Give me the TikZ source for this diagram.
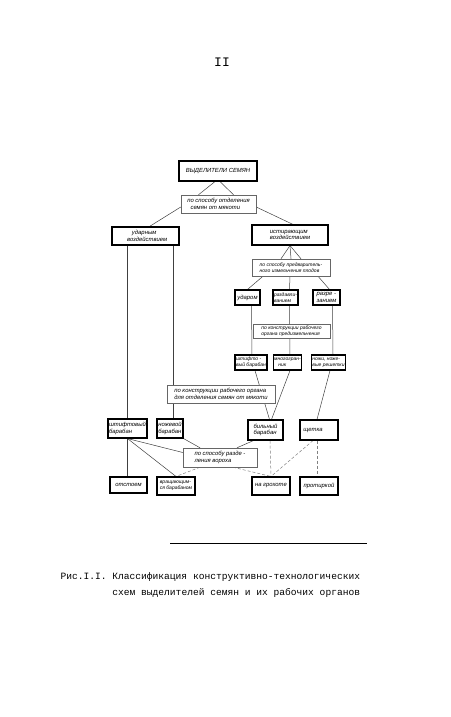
\documentclass[tikz,border=0pt]{standalone}
\usepackage{fontspec}
\setmainfont{Liberation Mono}
\newfontfamily\handfont{Liberation Sans}
\usetikzlibrary{backgrounds}
\begin{document}
\begin{tikzpicture}[x=1pt, y=-1pt,
  box/.style={draw, line width=1.1pt, fill=white, inner sep=1pt, align=left,
    font=\handfont\itshape\fontsize{5.9}{6.3}\selectfont},
  tight/.style={font=\handfont\itshape\fontsize{5}{5.8}\selectfont},
  crit/.style={box, draw=black!60, line width=0.45pt},
  link/.style={black!75, line width=0.5pt},
  weak/.style={black!50, line width=0.5pt, dash pattern=on 3pt off 2pt}]
  \useasboundingbox (0,0) rectangle (450,717);
  \node[font=\fontsize{13}{13}\selectfont] (pagenum) at (222,62) {II};

  \node[box, minimum width=78, minimum height=20] (root) at (218,171) {ВЫДЕЛИТЕЛИ СЕМЯН};
  \node[crit, minimum width=75, minimum height=18] (q1) at (218.5,204) {по способу отделения\\ \ \ семян от мякоти};
  \node[box, minimum width=67, minimum height=18] (udar) at (145.5,236) {\ \ \ \ \ ударным\\ \ \ воздействием};
  \node[box, minimum width=76, minimum height=20] (istir) at (290,235) {истирающим\\воздействием};
  \node[crit, tight, minimum width=78, minimum height=17] (q2) at (291,267.5) {по способу предваритель-\\ного измельчения плодов};
  \node[box, minimum width=25, minimum height=15] (udarom) at (247.5,297.5) {ударом};
  \node[box, tight, minimum width=25, minimum height=15] (razdav) at (285.5,297.5) {раздавли-\\ванием};
  \node[box, minimum width=27, minimum height=15] (razrez) at (326.5,297.5) {разре -\\занием};
  \node[crit, tight, minimum width=77, minimum height=14] (q3) at (291.5,331) {по конструкции рабочего\\органа предизмельчения};
  \node[box, tight, minimum width=32, minimum height=15] (shtifto) at (251,362.5) {штифто -\\вый барабан};
  \node[box, tight, minimum width=25, minimum height=15] (mnogogran) at (287.5,362.5) {многогран-\\\ \ \ ник};
  \node[box, tight, minimum width=27, minimum height=15] (nozhi) at (328.5,362.5) {ножи, ноже-\\вые решетки};
  \node[crit, minimum width=108, minimum height=18] (q4) at (221,394) {по конструкции рабочего органа\\для отделения семян от мякоти};
  \node[box, minimum width=39, minimum height=19] (shtifbar) at (127.5,428.5) {штифтовый\\барабан};
  \node[box, minimum width=26, minimum height=19] (nozhbar) at (170,428.5) {ножевой\\барабан};
  \node[box, minimum width=35, minimum height=20] (bilbar) at (265.5,430) {бильный\\барабан};
  \node[box, minimum width=38, minimum height=20] (shchetka) at (319,430) {щетка\hspace{12pt}};
  \node[crit, minimum width=74, minimum height=19] (q5) at (220,457.5) {по способу разде -\\ления вороха};
  \node[box, minimum width=37, minimum height=16] (otstoem) at (128.5,485) {отстоем};
  \node[box, tight, minimum width=38, minimum height=18] (vrashch) at (176,486) {вращающим-\\ся барабаном};
  \node[box, minimum width=38, minimum height=18] (grokhot) at (271,486) {на грохоте};
  \node[box, minimum width=38, minimum height=18] (protirk) at (319,486) {протиркой};

  \begin{scope}[on background layer]
    \draw[link] ([xshift=-3]root.south) -- ([xshift=-20]q1.north);
    \draw[link] ([xshift=2]root.south) -- ([xshift=15]q1.north);
    \draw[link] ([yshift=-3]q1.west) -- ([xshift=4]udar.north);
    \draw[link] ([yshift=-3]q1.east) -- ([xshift=3]istir.north);
    \draw[link] (shtifbar.north |- udar.south) -- (shtifbar.north);
    \draw[link] ([xshift=3]nozhbar.north |- udar.south) -- ([xshift=3]nozhbar.north);
    \foreach \dx in {-10,0,10}
      \draw[link] (istir.south) -- ([xshift=\dx]q2.north);
    \draw[link] ([xshift=-28]q2.south) -- (udarom.north);
    \draw[link] ([xshift=-1]q2.south) -- ([xshift=4]razdav.north);
    \draw[link] ([xshift=27]q2.south) -- ([xshift=3]razrez.north);
    \draw[link] ([xshift=4]udarom.south) -- ([xshift=1]shtifto.north);
    \draw[link] ([xshift=4]razdav.south) -- ([xshift=2.5]mnogogran.north);
    \draw[link] ([xshift=6]razrez.south) -- ([xshift=4.5]nozhi.north);
    \draw[link] ([xshift=4]shtifto.south) -- ([xshift=4]bilbar.north);
    \draw[link] ([xshift=2.5]mnogogran.south) -- ([xshift=6]bilbar.north);
    \draw[link] ([xshift=1.5]nozhi.south) -- ([xshift=-2]shchetka.north);
    \draw[link] (shtifbar.south) -- (shtifbar.south |- otstoem.north);
    \draw[link] (shtifbar.south) -- (vrashch.north);
    \draw[link] (shtifbar.south) -- ([yshift=5]q5.west);
    \draw[link] (nozhbar.south east) -- ([xshift=-20]q5.north);
    \draw[link] ([xshift=-12]bilbar.south) -- ([xshift=17]q5.north);
    \draw[weak] ([xshift=-20]q5.south) -- (vrashch.north);
    \draw[weak] ([xshift=13]q5.south) -- (grokhot.north);
    \draw[weak] ([xshift=4.5]bilbar.south) -- (grokhot.north);
    \draw[weak] ([xshift=-6]shchetka.south) -- (grokhot.north);
    \draw[weak] ([xshift=-2]shchetka.south) -- ([xshift=-2]protirk.north);
  \end{scope}

  \draw[line width=0.8pt] (170,543) -- (367,543);
  \node[anchor=west, align=left, font=\fontsize{9.6}{16.5}\selectfont] (caption) at (57,585)
    {Рис.I.I. Классификация конструктивно-технологических\\
     \phantom{Рис.I.I.\ }схем выделителей семян и их рабочих органов};
\end{tikzpicture}
\end{document}
